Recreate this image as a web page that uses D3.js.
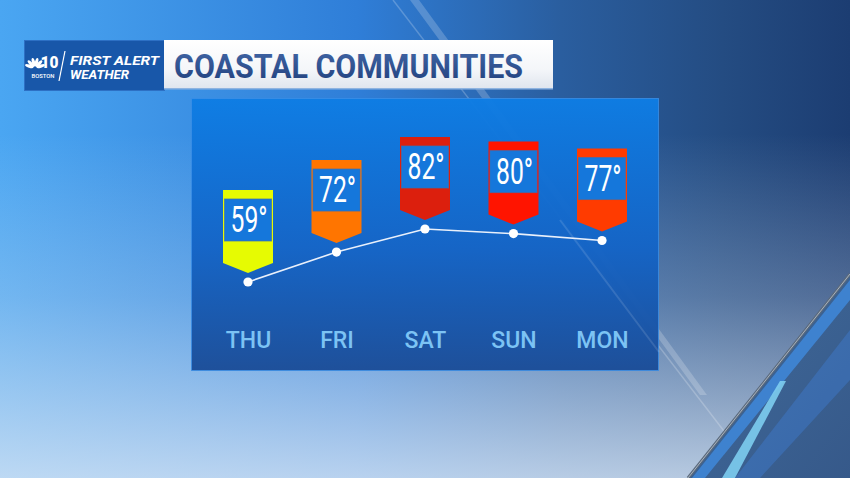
<!DOCTYPE html>
<html>
<head>
<meta charset="utf-8">
<script src="https://cdn.jsdelivr.net/npm/d3@7"></script>
<style>
html,body{margin:0;padding:0;background:#2a6cc0;overflow:hidden;}
svg{display:block;}
</style>
</head>
<body>
<svg id="chart" width="850" height="478"></svg>
<script>
// ---- data ----
const days = ["THU", "FRI", "SAT", "SUN", "MON"];
const temps = [59, 72, 82, 80, 77];
const tempLabels = ["59°", "72°", "82°", "80°", "77°"];
const title = "COASTAL COMMUNITIES";
const brandLines = ["FIRST ALERT", "WEATHER"];

// ---- drawing ----
const W = 850, H = 478;
const svg = d3.select("#chart");
const defs = svg.append("defs");

function lin(id, x1, y1, x2, y2, stops) {
  const g = defs.append("linearGradient").attr("id", id)
    .attr("x1", x1).attr("y1", y1).attr("x2", x2).attr("y2", y2);
  stops.forEach(s => g.append("stop").attr("offset", s[0]).attr("stop-color", s[1]).attr("stop-opacity", s[2] == null ? 1 : s[2]));
}
lin("bgH", 0, 0, 1, 0, [[0, "#4aa6f2"], [0.42, "#2f7ed8"], [0.66, "#2a5e9f"], [0.85, "#244c82"], [1, "#1c3d72"]]);
lin("bgV", 0, 0, 0, 1, [[0, "#cfdced", 0], [0.28, "#cfdced", 0], [0.62, "#cfdced", 0.3], [1, "#d6e4f4", 0.82]]);
lin("panelG", 0, 0, 0, 1, [[0, "#0e7de4"], [0.55, "#1464c6"], [1, "#1b4d98"]]);
lin("titleG", 0, 0, 0, 1, [[0, "#ffffff"], [0.6, "#f4f6f9"], [1, "#dfe5ee"]]);
lin("titleTxt", 0, 0, 0, 1, [[0, "#4468a8"], [1, "#1f3f7c"]]);
lin("rightG", 0, 0, 1, 1, [[0, "#416b9a"], [1, "#36598a"]]);

// background
svg.append("rect").attr("width", W).attr("height", H).attr("fill", "url(#bgH)");
svg.append("rect").attr("width", W).attr("height", H).attr("fill", "url(#bgV)");

// diagonal streaks (top-left to lower-right)
svg.append("line").attr("x1", 393).attr("y1", 0).attr("x2", 760).attr("y2", 478)
  .attr("stroke", "#ffffff").attr("stroke-opacity", 0.22).attr("stroke-width", 1.5);
svg.append("polygon").attr("points", "410,0 419,0 707,395 700,395")
  .attr("fill", "#ffffff").attr("fill-opacity", 0.2);

// lower-right region
svg.append("polygon").attr("points", "850,273 850,478 688,478")
  .attr("fill", "url(#rightG)");
svg.append("polygon").attr("points", "850,280 850,300 705,478 692,478")
  .attr("fill", "#3f86d6").attr("fill-opacity", 0.9);
svg.append("polygon").attr("points", "780,381 786,381 735,478 722,478")
  .attr("fill", "#7dcdf0").attr("fill-opacity", 0.9);
svg.append("polygon").attr("points", "850,330 850,380 760,478 735,478")
  .attr("fill", "#3e77c4").attr("fill-opacity", 0.55);
svg.append("line").attr("x1", 850).attr("y1", 274).attr("x2", 688).attr("y2", 478)
  .attr("stroke", "#5b6a7c").attr("stroke-width", 3);
svg.append("line").attr("x1", 850).attr("y1", 274).attr("x2", 688).attr("y2", 478)
  .attr("stroke", "#a7b2bf").attr("stroke-width", 1);

// panel
svg.append("rect").attr("x", 191.5).attr("y", 98.5).attr("width", 467).attr("height", 272)
  .attr("fill", "url(#panelG)").attr("fill-opacity", 0.97)
  .attr("stroke", "#3b8ee6").attr("stroke-opacity", 0.8).attr("stroke-width", 1);
// streak through panel
svg.append("line").attr("x1", 560).attr("y1", 220).attr("x2", 659).attr("y2", 352)
  .attr("stroke", "#ffffff").attr("stroke-opacity", 0.12).attr("stroke-width", 2);

// logo box
const logo = svg.append("g");
logo.append("rect").attr("x", 24.5).attr("y", 40.5).attr("width", 140).attr("height", 50)
  .attr("fill", "#1857a9").attr("stroke", "#2d70c4").attr("stroke-width", 1);
// peacock
const pc = [35, 68];
d3.range(6).forEach(i => {
  const a = -72 + i * 28.8;
  logo.append("ellipse").attr("cx", 0).attr("cy", -6).attr("rx", 1.6).attr("ry", 4.4)
    .attr("fill", "#ffffff")
    .attr("transform", `translate(${pc[0]},${pc[1]}) rotate(${a})`);
});
logo.append("text").attr("x", 40.5).attr("y", 67.5).text("10")
  .attr("font-family", "Roboto, sans-serif").attr("fill", "#ffffff")
  .attr("font-weight", 900).attr("font-size", 17)
  .attr("textLength", 18).attr("lengthAdjust", "spacingAndGlyphs");
logo.append("text").attr("x", 31.5).attr("y", 77.5).text("BOSTON")
  .attr("font-family", "Roboto, sans-serif").attr("fill", "#ffffff")
  .attr("font-weight", 500).attr("font-size", 5.2)
  .attr("textLength", 23).attr("lengthAdjust", "spacingAndGlyphs");
logo.append("line").attr("x1", 65).attr("y1", 51).attr("x2", 59).attr("y2", 81)
  .attr("stroke", "#ffffff").attr("stroke-width", 1.2);
logo.selectAll("text.brand").data(brandLines).enter().append("text").attr("class", "brand")
  .attr("x", 70).attr("y", (d, i) => i === 0 ? 64.5 : 79.3).text(d => d)
  .attr("font-family", "Roboto, sans-serif").attr("font-weight", 700).attr("font-style", "italic")
  .attr("font-size", 12.5).attr("fill", "#ffffff")
  .attr("textLength", (d, i) => i === 0 ? 89 : 59).attr("lengthAdjust", "spacingAndGlyphs");

// title box
svg.append("rect").attr("x", 164).attr("y", 40).attr("width", 389).attr("height", 49)
  .attr("fill", "url(#titleG)");
svg.append("rect").attr("x", 164).attr("y", 88).attr("width", 389).attr("height", 1.5)
  .attr("fill", "#8fb4e0");
svg.append("text").attr("x", 174).attr("y", 77.5).text(title)
  .attr("font-family", "Roboto, sans-serif").attr("font-weight", 700).attr("font-size", 33.5)
  .attr("textLength", 349).attr("lengthAdjust", "spacingAndGlyphs")
  .attr("fill", "url(#titleTxt)");

// scales
const x = d3.scalePoint().domain(days).range([248, 602]);
const y = d3.scaleLinear().domain([59, 82]).range([282, 229]);
const color = d3.scaleOrdinal().domain(days)
  .range(["#e6fb02", "#ff7500", "#dc1f0d", "#ff1400", "#ff3b00"]);
const pts = days.map((d, i) => ({ day: d, t: temps[i], label: tempLabels[i] }));

// line
svg.append("path").datum(pts)
  .attr("d", d3.line().x(d => x(d.day)).y(d => y(d.t)))
  .attr("fill", "none").attr("stroke", "#e9f0fb").attr("stroke-width", 1.6);

// flags
const fg = svg.selectAll("g.flag").data(pts).enter().append("g").attr("class", "flag");
const hw = 25;
fg.append("path").attr("d", d => {
  const cx = x(d.day), cy = y(d.t);
  return `M${cx - hw},${cy - 92} L${cx + hw},${cy - 92} L${cx + hw},${cy - 19} L${cx},${cy - 9} L${cx - hw},${cy - 19} Z`;
}).attr("fill", d => color(d.day));
fg.append("rect")
  .attr("x", d => x(d.day) - hw + 1.5).attr("y", d => y(d.t) - 83)
  .attr("width", 2 * hw - 3).attr("height", 42)
  .attr("fill", "#1577db").attr("stroke", "#3a6fb0").attr("stroke-opacity", 0.7).attr("stroke-width", 1);
fg.append("text")
  .attr("x", d => x(d.day) + 1).attr("y", d => y(d.t) - 50)
  .attr("text-anchor", "middle").text(d => d.label)
  .attr("font-family", "Roboto, sans-serif").attr("font-weight", 400).attr("font-size", 36)
  .attr("textLength", 37).attr("lengthAdjust", "spacingAndGlyphs").attr("fill", "#ffffff");

// dots
svg.selectAll("circle.dot").data(pts).enter().append("circle").attr("class", "dot")
  .attr("cx", d => x(d.day)).attr("cy", d => y(d.t)).attr("r", 4.6).attr("fill", "#ffffff");

// day axis labels
const axis = d3.axisBottom(x).tickSize(0).tickPadding(0);
const ag = svg.append("g").attr("transform", "translate(0,332)").call(axis);
ag.select(".domain").remove();
ag.selectAll("text")
  .attr("font-family", "Roboto, sans-serif").attr("font-weight", 500).attr("font-size", 23)
  .attr("fill", "#7cc3f4").attr("dy", "0.71em");
</script>
</body>
</html>
